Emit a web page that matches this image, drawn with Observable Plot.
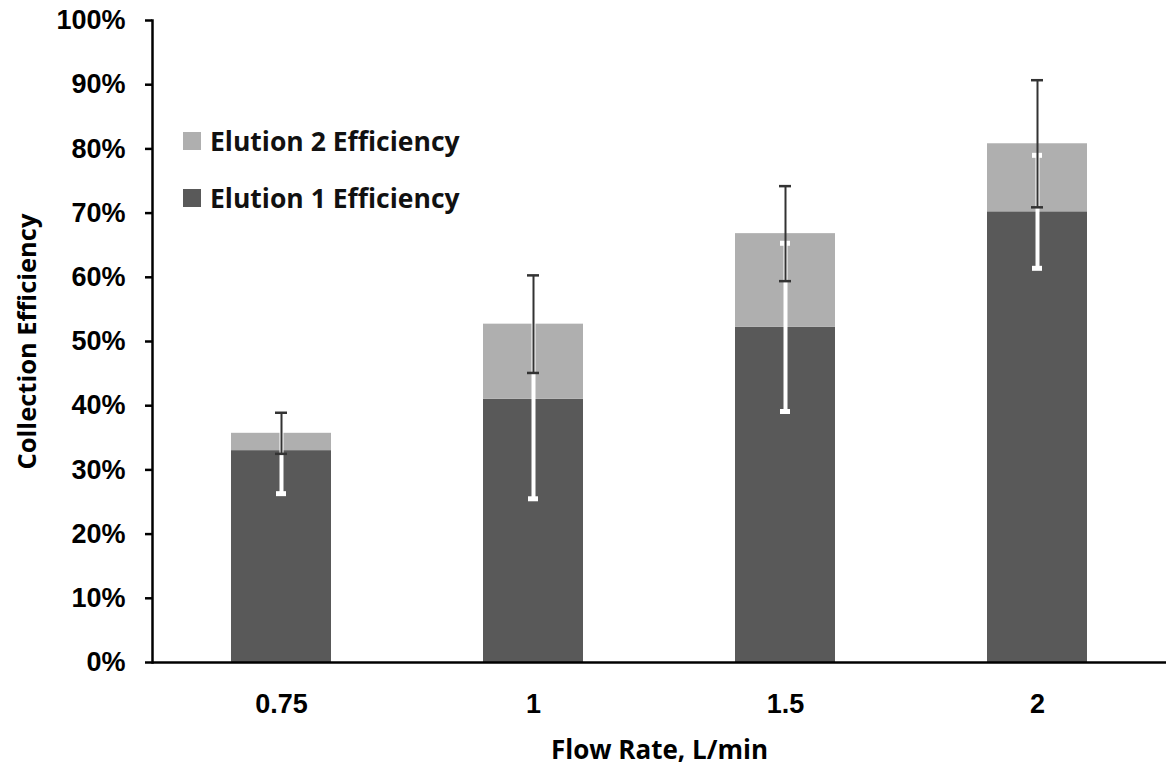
<!DOCTYPE html>
<html>
<head>
<meta charset="utf-8">
<script src="https://cdn.jsdelivr.net/npm/d3@7"></script>
<script src="https://cdn.jsdelivr.net/npm/@observablehq/plot@0.6"></script>
<style>
  body { margin: 0; background: #fff; }
  #wrap { position: relative; width: 1172px; height: 765px; }
  #legend { position: absolute; left: 183px; top: 126px; font-family: "Open Sans", sans-serif; font-weight: bold; font-size: 26.5px; color: #111; }
  .item { display: flex; align-items: center; height: 30px; margin-bottom: 27px; }
  .sw { width: 18px; height: 18px; margin-right: 9px; }
</style>
</head>
<body>
<div id="wrap">
  <div id="chart"></div>
  <div id="legend"></div>
</div>
<script>
const flowRates = ["0.75", "1", "1.5", "2"];
const elution1 = [33.0, 41.0, 52.2, 70.2];
const elution2 = [2.7, 11.7, 14.6, 10.6];
const err1 = [6.7, 15.5, 13.1, 8.8];
const err2 = [3.2, 7.6, 7.4, 9.9];
const yTicks = [0, 10, 20, 30, 40, 50, 60, 70, 80, 90, 100];
const seriesNames = ["Elution 2 Efficiency", "Elution 1 Efficiency"];
const seriesColors = ["#afafaf", "#595959"];

const rows = flowRates.map((f, i) => ({
  flow: f,
  e1: elution1[i],
  total: elution1[i] + elution2[i],
  e1lo: elution1[i] - err1[i], e1hi: elution1[i] + err1[i],
  tlo: elution1[i] + elution2[i] - err2[i], thi: elution1[i] + elution2[i] + err2[i]
}));

const tickFont = {fontFamily: "Liberation Sans", fontWeight: "bold", fontSize: 27};

const chart = Plot.plot({
  width: 1172,
  height: 765,
  marginLeft: 152,
  marginRight: 6,
  marginTop: 20,
  marginBottom: 103,
  style: {fontFamily: "'Open Sans', sans-serif", fontWeight: "bold", fontSize: "25px", color: "#000", background: "#fff"},
  x: {domain: flowRates, paddingInner: 0.604, paddingOuter: 0.31},
  y: {domain: [0, 100]},
  marks: [
    Plot.barY(rows, {x: "flow", y1: 0, y2: "e1", fill: seriesColors[1]}),
    Plot.barY(rows, {x: "flow", y1: "e1", y2: "total", fill: seriesColors[0]}),
    // Elution 1 error bars (white)
    Plot.ruleX(rows, {x: "flow", y1: "e1lo", y2: "e1hi", stroke: "#fff", strokeWidth: 4}),
    Plot.tickY(rows, {x: "flow", y: "e1lo", stroke: "#fff", strokeWidth: 5, insetLeft: 45, insetRight: 45}),
    Plot.tickY(rows, {x: "flow", y: "e1hi", stroke: "#fff", strokeWidth: 5, insetLeft: 45, insetRight: 45}),
    // Elution 2 (stack total) error bars (dark)
    Plot.ruleX(rows, {x: "flow", y1: "tlo", y2: "thi", stroke: "#333", strokeWidth: 2}),
    Plot.tickY(rows, {x: "flow", y: "tlo", stroke: "#333", strokeWidth: 2.5, insetLeft: 44, insetRight: 44}),
    Plot.tickY(rows, {x: "flow", y: "thi", stroke: "#333", strokeWidth: 2.5, insetLeft: 44, insetRight: 44}),
    Plot.axisY({ticks: yTicks, tickFormat: d => d + "%", tickSize: 7, tickPadding: 20, strokeWidth: 2.5, ...tickFont, label: null}),
    Plot.axisY({ticks: [], tickSize: 0, label: "Collection Efficiency", labelAnchor: "center", labelOffset: 135, labelArrow: "none", fontSize: 25.5}),
    Plot.axisX({tickSize: 0, tickPadding: 31, ...tickFont, label: null}),
    Plot.axisX({ticks: [], tickSize: 0, label: "Flow Rate, L/min", labelAnchor: "center", labelOffset: 96, labelArrow: "none", fontSize: 26}),
    Plot.frame({anchor: "left", strokeWidth: 2.5, stroke: "#000"}),
    Plot.ruleY([0], {strokeWidth: 2.5, stroke: "#000"})
  ]
});
document.getElementById("chart").appendChild(chart);

const legend = document.getElementById("legend");
seriesNames.forEach((name, i) => {
  const item = document.createElement("div");
  item.className = "item";
  const sw = document.createElement("div");
  sw.className = "sw";
  sw.style.background = seriesColors[i];
  const t = document.createElement("span");
  t.textContent = name;
  item.appendChild(sw);
  item.appendChild(t);
  legend.appendChild(item);
});
</script>
</body>
</html>
